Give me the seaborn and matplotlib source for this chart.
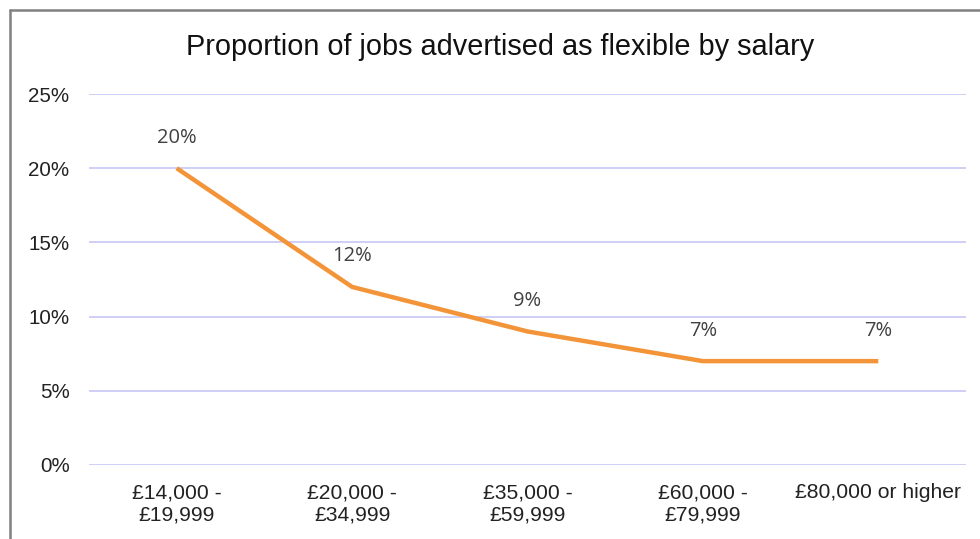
import matplotlib
matplotlib.use("Agg")
import matplotlib.pyplot as plt
from matplotlib.lines import Line2D
import seaborn as sns
import pandas as pd

categories = ["£14,000 -\n£19,999", "£20,000 -\n£34,999", "£35,000 -\n£59,999",
              "£60,000 -\n£79,999", "£80,000 or higher"]
values = [0.20, 0.12, 0.09, 0.07, 0.07]
ytick_vals = [0, 0.05, 0.10, 0.15, 0.20, 0.25]
ytick_labels = ["0%", "5%", "10%", "15%", "20%", "25%"]
title = "Proportion of jobs advertised as flexible by salary"

sns.set_style("white")
plt.rcParams["font.family"] = ["Liberation Sans", "DejaVu Sans"]

df = pd.DataFrame({"cat": categories, "val": values, "x": range(len(categories))})

W, H = 980, 539
fig = plt.figure(figsize=(W / 100, H / 100), dpi=100)
ax = fig.add_axes([89 / W, 1 - 465 / H, (966 - 89) / W, (465 - 94) / H])

sns.lineplot(data=df, x="x", y="val", ax=ax, color="#F39439", linewidth=3.2,
             solid_capstyle="butt", sort=False)

for i, v in enumerate(values):
    ax.annotate(f"{round(v*100):d}%", (i, v), xytext=(0, 22), textcoords="offset points",
                ha="center", va="center", fontsize=14.5, color="#404040",
                family=["Open Sans", "DejaVu Sans"])

ax.set_xlim(-0.5, len(categories) - 0.5)
ax.set_ylim(0, 0.25)
ax.set_yticks(ytick_vals)
ax.set_yticklabels(ytick_labels, fontsize=14.8, color="#222222")
ax.set_xticks(range(len(categories)))
ax.set_xticklabels(categories, fontsize=15.2, color="#222222", linespacing=1.25)
ax.tick_params(axis="both", length=0)
ax.tick_params(axis="y", pad=14)
ax.tick_params(axis="x", pad=13)
ax.set_xlabel("")
ax.set_ylabel("")
ax.grid(axis="y", color="#CFCFF7", linewidth=1.4)
ax.set_axisbelow(True)
for s in ax.spines.values():
    s.set_visible(False)

fig.text(500 / W, 1 - 47 / H, title, ha="center", va="center", fontsize=20.8, color="#111111")

# outer frame (cropped chart border)
fig.add_artist(Line2D([10 / W, 10 / W], [0, 1 - 10 / H], transform=fig.transFigure,
                      color="#808080", linewidth=1.8))
fig.add_artist(Line2D([10 / W, 1], [1 - 10 / H, 1 - 10 / H], transform=fig.transFigure,
                      color="#808080", linewidth=1.8))

fig.savefig("out.png", dpi=100)
